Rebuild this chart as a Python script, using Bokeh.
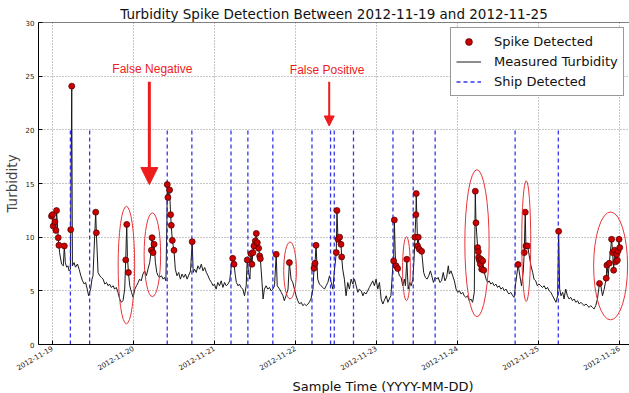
import math
import pandas as pd
from bokeh.plotting import figure
from bokeh.models import (Range1d, FixedTicker, DatetimeTickFormatter, Span, Label, Title,
                          Arrow, NormalHead, Legend, LegendItem, ColumnDataSource)
from bokeh.embed import file_html
from bokeh.resources import INLINE

# ---------------- data ----------------
START = "2012-11-19 00:00"
# measured turbidity: hours since 2012-11-19 00:00 and values
turb_hours = [
    -0.2, 0.1, 0.3, 0.8, 1.1, 1.3, 1.8, 2.0, 2.2, 2.8,
    3.3, 3.6, 3.9, 4.3, 4.7, 5.0, 5.4, 5.5, 5.8, 6.0,
    6.5, 6.9, 7.5, 8.0, 8.5, 9.0, 9.5, 9.9, 10.4, 10.8,
    11.1, 11.4, 11.8, 12.1, 12.9, 13.1, 13.6, 14.1, 14.6, 15.1,
    15.6, 16.1, 16.6, 17.0, 17.5, 18.1, 18.5, 19.0, 19.5, 20.0,
    20.5, 21.0, 21.5, 21.8, 22.1, 22.3, 22.6, 23.0, 23.5, 24.0,
    24.5, 25.0, 25.5, 25.9, 26.4, 26.9, 27.4, 27.9, 28.4, 28.9,
    29.4, 29.6, 29.9, 30.2, 30.6, 31.0, 31.4, 31.8, 32.4, 32.9,
    33.3, 33.7, 34.0, 34.1, 34.3, 34.8, 35.1, 35.3, 35.6, 36.1,
    36.5, 37.0, 37.5, 38.0, 38.5, 39.0, 39.5, 40.0, 40.4, 41.0,
    41.5, 41.8, 42.2, 42.7, 43.2, 43.7, 44.2, 44.7, 45.2, 45.7,
    46.2, 46.6, 47.2, 47.7, 48.1, 48.6, 49.1, 49.6, 50.1, 50.6,
    51.1, 51.6, 52.1, 52.6, 53.1, 53.5, 53.9, 54.3, 54.6, 55.1,
    55.5, 56.0, 56.5, 57.0, 57.5, 57.8, 58.2, 58.6, 58.9, 59.2,
    59.5, 59.8, 60.2, 60.5, 60.8, 61.2, 61.5, 61.7, 62.2, 62.5,
    62.9, 63.4, 63.9, 64.4, 64.9, 65.4, 65.9, 66.4, 66.7, 67.4,
    67.9, 68.4, 68.8, 69.3, 69.9, 70.3, 70.8, 71.3, 71.8, 72.3,
    72.8, 73.3, 73.8, 74.3, 74.8, 75.3, 75.8, 76.2, 76.7, 77.3,
    77.6, 77.9, 78.2, 78.7, 79.2, 79.7, 80.2, 80.7, 81.2, 81.7,
    82.2, 82.7, 83.2, 83.6, 84.2, 84.4, 84.7, 85.2, 85.6, 85.8,
    86.1, 86.6, 87.1, 87.6, 88.1, 88.6, 89.1, 89.6, 90.1, 90.6,
    91.0, 91.6, 92.1, 92.5, 93.0, 93.5, 94.0, 94.5, 95.0, 95.5,
    96.0, 96.5, 97.0, 97.5, 98.0, 98.4, 99.0, 99.5, 99.9, 100.4,
    100.9, 101.2, 101.4, 101.7, 101.9, 102.4, 102.9, 103.4, 103.9, 104.4,
    104.7, 105.1, 105.5, 106.0, 106.4, 106.9, 107.3, 107.5, 107.8, 107.9,
    108.3, 108.5, 108.8, 109.5, 110.1, 110.6, 111.1, 111.6, 112.1, 112.5,
    113.0, 113.5, 114.0, 114.4, 114.9, 115.4, 115.9, 116.4, 116.9, 117.4,
    117.7, 118.2, 118.7, 119.2, 119.7, 120.2, 120.7, 121.2, 121.7, 122.1,
    122.6, 123.1, 123.6, 124.1, 124.6, 125.1, 125.4, 125.6, 126.1, 126.3,
    126.4, 126.6, 126.9, 127.1, 127.3, 127.6, 127.9, 128.6, 129.1, 129.5,
    130.0, 130.5, 131.0, 131.5, 132.0, 132.5, 133.0, 133.5, 134.0, 134.5,
    135.0, 135.4, 135.9, 136.5, 136.9, 137.4, 138.1, 138.6, 139.1, 139.6,
    139.9, 140.2, 140.4, 140.9, 141.4, 141.9, 142.4, 142.8, 143.3, 143.8,
    144.3, 144.8, 145.3, 145.8, 146.3, 146.8, 147.3, 147.8, 148.3, 148.8,
    149.3, 149.8, 150.1, 150.4, 150.8, 151.3, 151.7, 152.2, 152.7, 153.2,
    153.7, 154.2, 154.7, 155.2, 155.7, 156.2, 156.7, 157.2, 157.6, 158.2,
    158.7, 159.1, 159.6, 160.1, 160.6, 161.1, 161.6, 162.2, 162.6, 163.1,
    163.6, 164.2, 164.4, 164.8, 165.1, 165.8, 166.1, 166.4, 166.7, 167.0,
    167.3, 167.5, 167.7, 168.0, 168.2,
]
turb_values = [
    11.96, 12.1, 11.03, 11.43, 10.63, 12.48, 9.95, 9.24, 8.56, 7.48,
    7.33, 9.18, 7.63, 7.2, 7.33, 6.86, 7.0, 10.7, 24.07, 7.33,
    7.63, 7.2, 7.5, 7.0, 6.4, 5.93, 5.63, 5.78, 5.16, 4.54,
    4.86, 5.16, 6.09, 6.4, 12.33, 10.41, 6.71, 6.4, 6.25, 6.09,
    5.63, 5.78, 5.47, 5.63, 5.32, 5.47, 5.16, 5.32, 4.86, 4.24,
    3.93, 4.09, 5.16, 7.88, 11.19, 8.2, 6.71, 5.47, 4.86, 4.39,
    5.16, 5.47, 5.78, 6.09, 5.93, 6.56, 6.86, 6.4, 7.02, 7.63,
    8.78, 9.95, 8.56, 9.33, 7.63, 6.71, 6.4, 6.25, 6.4, 6.09,
    6.25, 5.93, 11.34, 14.9, 13.7, 14.4, 12.1, 11.1, 9.7, 8.78,
    7.02, 6.4, 6.71, 6.09, 6.56, 6.25, 6.56, 6.09, 6.4, 6.86,
    9.58, 6.71, 7.02, 6.71, 7.33, 7.02, 7.48, 6.86, 7.17, 6.71,
    6.4, 6.09, 5.78, 5.47, 5.63, 5.16, 5.78, 5.47, 5.93, 5.32,
    5.78, 5.47, 5.63, 5.93, 7.33, 8.03, 7.48, 6.4, 5.78, 5.47,
    5.63, 5.32, 5.16, 4.54, 5.47, 7.88, 6.71, 6.09, 8.46, 7.48,
    8.56, 9.18, 9.65, 10.35, 9.49, 8.96, 8.25, 8.0, 5.78, 4.24,
    5.16, 5.47, 5.16, 5.32, 5.0, 5.16, 5.47, 8.4, 5.47, 5.16,
    4.86, 4.54, 4.08, 4.54, 5.16, 7.63, 6.09, 5.78, 5.16, 4.54,
    4.08, 3.77, 3.93, 3.62, 3.77, 3.62, 3.77, 3.93, 4.24, 5.16,
    7.1, 7.57, 9.24, 6.09, 5.63, 5.47, 5.32, 5.16, 5.47, 5.78,
    6.4, 5.78, 5.16, 6.71, 8.56, 12.48, 9.8, 10.0, 9.33, 8.16,
    7.02, 6.09, 4.54, 5.78, 5.16, 6.09, 5.63, 6.09, 5.47, 4.86,
    5.16, 5.0, 4.54, 4.86, 4.7, 5.0, 5.32, 5.63, 5.93, 5.47,
    6.09, 5.16, 5.78, 4.24, 3.77, 4.08, 4.54, 3.93, 4.24, 4.54,
    7.02, 7.79, 11.6, 8.25, 7.33, 7.08, 6.4, 6.25, 5.47, 6.09,
    5.47, 7.94, 5.16, 5.78, 5.47, 6.09, 8.25, 10.0, 12.1, 14.06,
    9.18, 10.0, 8.87, 8.68, 6.71, 6.25, 6.09, 6.4, 6.86, 6.4,
    5.78, 6.25, 6.09, 6.25, 5.78, 5.93, 6.71, 5.93, 6.25, 7.33,
    6.56, 6.86, 6.4, 5.93, 5.16, 4.86, 5.0, 4.7, 4.86, 4.54,
    4.39, 4.54, 4.08, 4.24, 3.93, 4.86, 14.28, 11.34, 9.03, 8.65,
    8.1, 7.85, 7.48, 7.94, 7.02, 7.79, 6.92, 6.09, 5.78, 5.93,
    5.63, 5.78, 5.47, 5.63, 5.32, 5.47, 5.16, 5.32, 5.0, 5.16,
    4.86, 4.7, 4.86, 4.54, 4.39, 5.78, 7.45, 6.4, 5.47, 6.71,
    8.56, 12.33, 9.18, 9.18, 8.25, 7.33, 6.71, 6.09, 5.93, 5.47,
    5.63, 5.47, 5.32, 5.47, 5.16, 5.32, 5.0, 4.86, 4.54, 4.24,
    3.93, 4.54, 10.54, 5.16, 4.54, 4.86, 4.24, 5.16, 4.54, 4.24,
    4.39, 4.08, 4.24, 3.93, 4.08, 3.77, 3.93, 3.77, 3.62, 3.77,
    3.62, 3.46, 3.62, 3.46, 3.31, 3.62, 4.24, 5.69, 5.47, 4.54,
    5.16, 6.18, 7.39, 6.4, 7.57, 9.8, 8.56, 6.92, 8.78, 7.7,
    8.4, 7.85, 8.71, 9.8, 9.03,
]
assert len(turb_hours) == len(turb_values), (len(turb_hours), len(turb_values))

# detected spikes
spike_hours = [
    -0.2, 0.1, 0.3, 0.8, 1.1, 1.3, 1.8, 2.0, 3.6, 5.5, 5.8, 12.9, 13.1,
    21.8, 22.1, 22.6, 29.4, 29.6, 29.9, 30.2, 34.1, 34.3, 34.8, 35.1, 35.3,
    35.6, 36.1, 41.5, 53.5, 53.9, 57.8, 58.9, 59.2, 59.5, 59.8, 60.2, 60.5,
    60.8, 61.2, 61.5, 61.7, 66.4, 70.3, 77.6, 77.9, 78.2, 84.2, 84.4, 84.7,
    85.2, 85.6, 85.8, 101.2, 101.4, 101.9, 102.4, 105.1, 107.5, 107.8, 107.9,
    108.3, 108.5, 108.8, 109.5, 125.4, 125.6, 126.1, 126.3, 126.4, 126.6,
    126.9, 127.1, 127.3, 127.6, 127.9, 138.1, 139.9, 140.2, 140.4, 140.9,
    150.1, 162.2, 164.2, 164.4, 165.1, 165.8, 166.1, 166.4, 166.7, 167.0,
    167.3, 167.5, 167.7, 168.0, 168.2,
]
spike_values = [
    11.96, 12.1, 11.03, 11.43, 10.63, 12.48, 9.95, 9.24, 9.18, 10.7, 24.07, 12.33, 10.41,
    7.88, 11.19, 6.71, 8.78, 9.95, 8.56, 9.33, 14.9, 13.7, 14.4, 12.1, 11.1,
    9.7, 8.78, 9.58, 8.03, 7.48, 7.88, 8.46, 7.48, 8.56, 9.18, 9.65, 10.35,
    9.49, 8.96, 8.25, 8.0, 8.4, 7.63, 7.1, 7.57, 9.24, 8.56, 12.48, 9.8,
    10.0, 9.33, 8.16, 7.79, 11.6, 7.33, 7.08, 7.94, 10.0, 12.1, 14.06,
    9.18, 10.0, 8.87, 8.68, 14.28, 11.34, 9.03, 8.65, 8.1, 7.85,
    7.48, 7.94, 7.02, 7.79, 6.92, 7.45, 8.56, 12.33, 9.18, 9.18,
    10.54, 5.69, 6.18, 7.39, 7.57, 9.8, 8.56, 6.92, 8.78, 7.7,
    8.4, 7.85, 8.71, 9.8, 9.03,
]
assert len(spike_hours) == len(spike_values), (len(spike_hours), len(spike_values))

# ship detections (hours) drawn from 0 up to ship_top
ship_hours = [5.4, 11.1, 34.1, 41.4, 53.0, 58.0, 65.4, 77.0, 82.5, 83.6,
              89.3, 101.0, 107.0, 113.5, 137.2, 150.0]
ship_top = 20

# highlighted events (ellipses): centre hour, centre value, width (h), height
ell_hours = [22.0, 29.7, 70.5, 105.0, 125.9, 140.5, 165.5]
ell_values = [7.4, 8.36, 6.9, 7.06, 9.44, 9.63, 7.32]
ell_width_h = [4.9, 4.9, 3.75, 2.3, 7.2, 2.66, 10.06]
ell_height = [10.96, 7.8, 5.3, 5.96, 13.7, 11.28, 10.07]

# annotations
fn_text, fn_hour, fn_value = "False Negative", 29.7, 25.64
fn_arrow_hour, fn_arrow_from, fn_arrow_to = 28.8, 24.47, 14.9
fp_text, fp_hour, fp_value = "False Positive", 81.5, 25.55
fp_arrow_hour, fp_arrow_from, fp_arrow_to = 82.1, 24.47, 20.36

day_ticks = ["2012-11-19", "2012-11-20", "2012-11-21", "2012-11-22",
             "2012-11-23", "2012-11-24", "2012-11-25", "2012-11-26"]
y_ticks = [0, 5, 10, 15, 20, 25, 30]
x_start_h, x_end_h = -4.05, 171.1

# ---------------- helpers ----------------
base = pd.Timestamp(START)
HOUR_MS = 3600 * 1000.0
base_ms = base.value / 1e6


def to_ms(h):
    return base_ms + h * HOUR_MS


turb_src = ColumnDataSource(dict(t=[to_ms(h) for h in turb_hours], v=turb_values))
spike_src = ColumnDataSource(dict(t=[to_ms(h) for h in spike_hours], v=spike_values))
ship_src = ColumnDataSource(dict(t=[to_ms(h) for h in ship_hours],
                                 y0=[0] * len(ship_hours), y1=[ship_top] * len(ship_hours)))
ell_src = ColumnDataSource(dict(t=[to_ms(h) for h in ell_hours], v=ell_values,
                                w=[w * HOUR_MS for w in ell_width_h], h=ell_height))

FONT = "DejaVu Sans"

p = figure(width=629, height=393, x_axis_type="datetime",
           x_range=Range1d(to_ms(x_start_h), to_ms(x_end_h)), y_range=Range1d(0, 30),
           output_backend="svg", toolbar_location=None,
           min_border_left=37, min_border_right=0, min_border_top=22, min_border_bottom=47,
           title="Turbidity Spike Detection Between 2012-11-19 and 2012-11-25")
p.outline_line_color = None
p.background_fill_color = "white"
p.border_fill_color = "white"

p.title.align = "center"
p.title.text_font = FONT
p.title.text_font_size = "13.5px"
p.title.text_font_style = "normal"
p.title.text_color = "#111111"
p.title.standoff = 1

# axes
xt = [pd.Timestamp(d).value / 1e6 for d in day_ticks]
p.xaxis.ticker = FixedTicker(ticks=xt)
p.xgrid.ticker = FixedTicker(ticks=xt)
fmt = "%Y-%m-%d"
p.xaxis.formatter = DatetimeTickFormatter(days=fmt, months=fmt, hours=fmt, years=fmt,
                                          hourmin=fmt, minutes=fmt, minsec=fmt, seconds=fmt)
p.xaxis.major_label_orientation = math.radians(30)
p.yaxis.ticker = FixedTicker(ticks=y_ticks)
p.ygrid.ticker = FixedTicker(ticks=y_ticks)
for ax in (p.xaxis, p.yaxis):
    ax.major_label_text_font = FONT
    ax.major_label_text_font_size = "7px"
    ax.major_label_text_color = "#222222"
    ax.major_tick_in = 4
    ax.major_tick_out = 0
    ax.minor_tick_line_color = None
    ax.axis_line_color = "black"
    ax.major_tick_line_color = "black"
p.xaxis.major_label_standoff = 3
p.yaxis.major_label_standoff = 4
p.yaxis.axis_label = "Turbidity"
p.yaxis.axis_label_text_font = FONT
p.yaxis.axis_label_text_font_size = "13.5px"
p.yaxis.axis_label_text_font_style = "normal"
p.yaxis.axis_label_standoff = 3

for g in (p.xgrid, p.ygrid):
    g.grid_line_color = "#8c8c8c"
    g.grid_line_dash = "1 2"
    g.grid_line_width = 1

p.add_layout(Span(location=30, dimension="width", line_color="black", line_width=1))

# x axis title below the tick labels
p.add_layout(Title(text="Sample Time (YYYY-MM-DD)", align="left", offset=254,
                   text_font=FONT, text_font_size="13px", text_font_style="normal",
                   text_color="#111111", standoff=0), "below")

# glyphs
r_line = p.line("t", "v", source=turb_src, line_color="#1a1a1a", line_width=1)
r_ship = p.segment(x0="t", y0="y0", x1="t", y1="y1", source=ship_src,
                   line_color="#1f1fe6", line_width=1.3, line_dash="4 3", line_alpha=0.9)
r_spike = p.scatter("t", "v", source=spike_src, size=6, fill_color="#cc0000",
                    line_color="#4a0000", line_width=0.7)
p.ellipse(x="t", y="v", width="w", height="h", source=ell_src, fill_alpha=0,
          line_color="#e8343a", line_width=1)

RED = "#ee1c1c"
p.add_layout(Arrow(x_start=to_ms(fn_arrow_hour), y_start=fn_arrow_from,
                   x_end=to_ms(fn_arrow_hour), y_end=fn_arrow_to,
                   line_color=RED, line_width=3,
                   end=NormalHead(size=17, fill_color=RED, line_color=RED)))
p.add_layout(Arrow(x_start=to_ms(fp_arrow_hour), y_start=fp_arrow_from,
                   x_end=to_ms(fp_arrow_hour), y_end=fp_arrow_to,
                   line_color=RED, line_width=2,
                   end=NormalHead(size=10, fill_color=RED, line_color=RED)))
for txt, h, v in ((fn_text, fn_hour, fn_value), (fp_text, fp_hour, fp_value)):
    p.add_layout(Label(x=to_ms(h), y=v, text=txt, text_align="center", text_baseline="middle",
                       text_font="Liberation Sans", text_font_size="12px", text_color=RED))

legend = Legend(items=[LegendItem(label="Spike Detected", renderers=[r_spike]),
                       LegendItem(label="Measured Turbidity", renderers=[r_line]),
                       LegendItem(label="Ship Detected", renderers=[r_ship])],
                location=(412, 248))
legend.label_text_font = FONT
legend.label_text_font_size = "13px"
legend.label_text_color = "#111111"
legend.border_line_color = "#333333"
legend.border_line_width = 1
legend.background_fill_color = "white"
legend.background_fill_alpha = 1
legend.padding = 5
legend.margin = 0
legend.glyph_width = 25
legend.glyph_height = 17
legend.label_height = 17
legend.label_standoff = 13
legend.spacing = 3
p.add_layout(legend)

open("out.html", "w").write(file_html(p, INLINE))
